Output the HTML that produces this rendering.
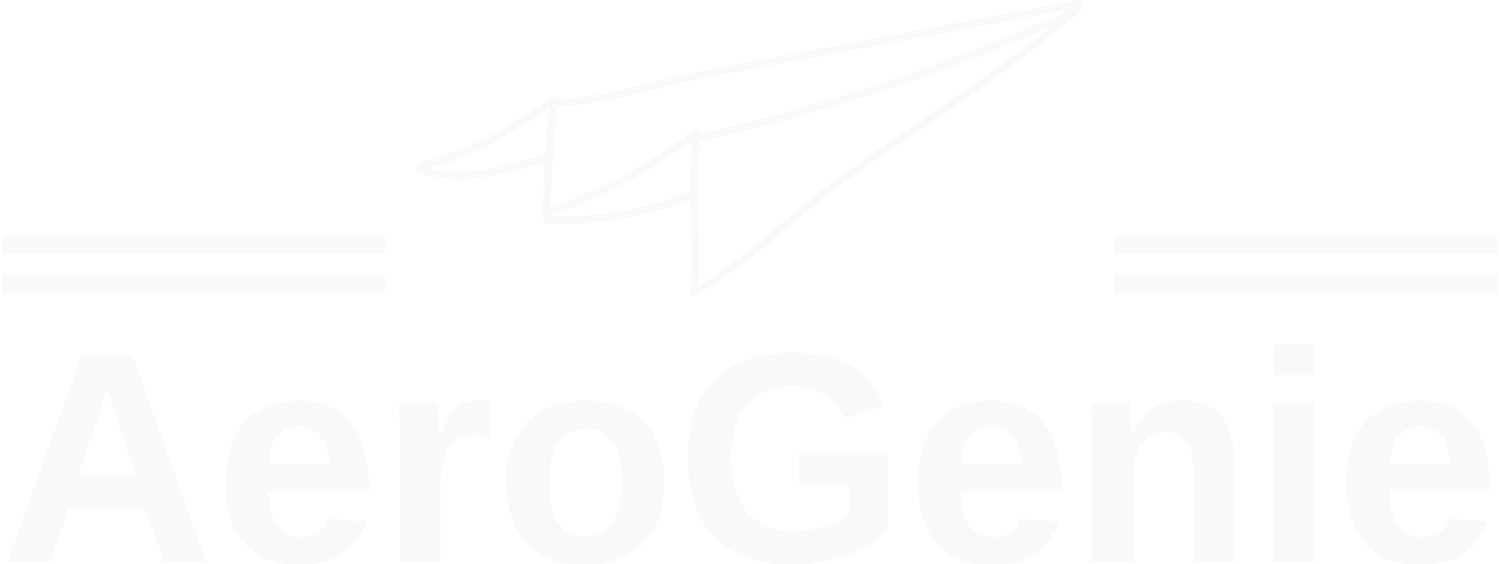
<!DOCTYPE html>
<html><head><meta charset="utf-8"><style>
html,body{margin:0;padding:0;background:#fff;width:1500px;height:564px;overflow:hidden}
svg{display:block;overflow:hidden}
</style></head><body>
<svg width="1500" height="564" viewBox="0 0 1500 564">
<g fill="#f8f9fa">
<rect x="2" y="236" width="383" height="18"/>
<rect x="2" y="275" width="383" height="18"/>
<rect x="1114" y="236" width="384" height="18"/>
<rect x="1114" y="275" width="384" height="18"/>
</g>
<g fill="none" stroke="#f8f9fa" stroke-width="7.5" stroke-linecap="round" stroke-linejoin="round">
<path d="M556,103 C610,100 640,88 700,75 C820,52 950,28 1078,4"/>
<path d="M555,100 C510,130 470,155 422,166"/>
<path d="M420,170 C460,182 505,172 547,157"/>
<path d="M554,104 C549,140 548,180 546,218"/>
<path d="M549,212 C610,190 655,165 696,133"/>
<path d="M548,220 C600,222 650,212 690,195"/>
<path d="M698,138 C830,108 950,68 1075,12"/>
<path d="M696,137 C693,190 697,240 695,292"/>
<path d="M693,293 C760,255 800,205 870,160 C950,105 1020,60 1078,8"/>
</g>
<text x="0" y="562" textLength="1500" lengthAdjust="spacingAndGlyphs" font-family="Liberation Sans, sans-serif" font-weight="bold" font-size="300" fill="#f8f9fa">AeroGenie</text>
</svg>
</body></html>
